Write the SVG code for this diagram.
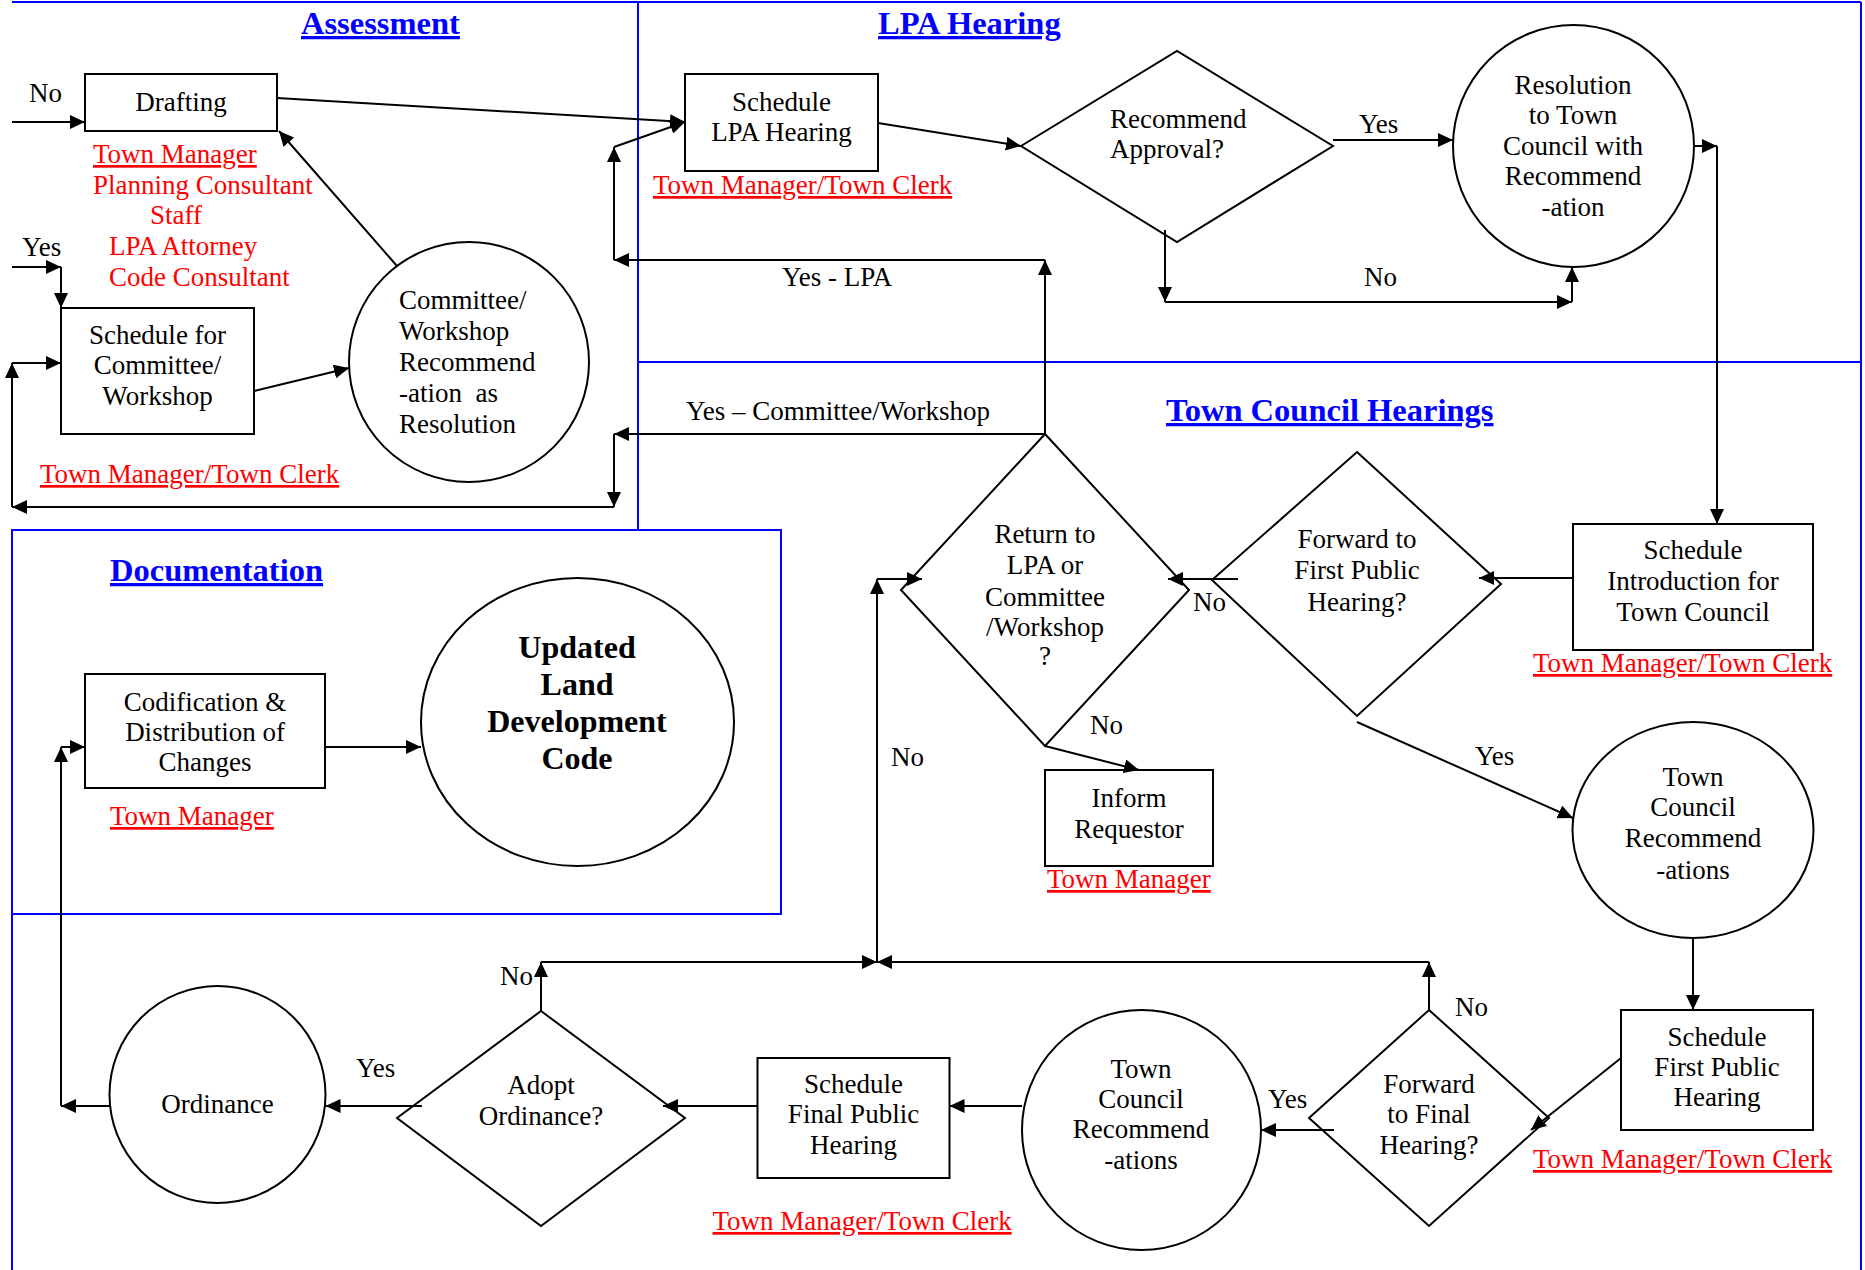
<svg xmlns="http://www.w3.org/2000/svg" width="1865" height="1270" viewBox="0 0 1865 1270">
<defs>
<marker id="ah" markerUnits="userSpaceOnUse" markerWidth="16" markerHeight="14" refX="15" refY="7" orient="auto">
<path d="M0,0 L15,7 L0,14 z" fill="#000"/>
</marker>
<style>
text{font-family:"Liberation Serif","Times New Roman",serif;font-size:27px;fill:#000}
.c{text-anchor:middle}
.title{font-size:32.5px;font-weight:bold;fill:#0000ff;text-decoration:underline}
.red{fill:#ff0000}
.u{text-decoration:underline}
.big{font-size:32px;font-weight:bold}
.shape{fill:none;stroke:#000;stroke-width:2}
.frame{fill:none;stroke:#0000ff;stroke-width:2}
.conn line{stroke:#000;stroke-width:2;fill:none;marker-end:url(#ah)}
</style>
</defs>
<rect width="1865" height="1270" fill="#fff"/>

<g id="frames">
<line class="frame" x1="12" y1="2" x2="1861" y2="2"/>
<line class="frame" x1="638" y1="2" x2="638" y2="530"/>
<line class="frame" x1="638" y1="362" x2="1861" y2="362"/>
<line class="frame" x1="1861" y1="2" x2="1861" y2="1270"/>
<rect class="frame" x="12" y="530" width="769" height="384"/>
<line class="frame" x1="12" y1="914" x2="12" y2="1270"/>
</g>

<g id="titles">
<text class="title" x="301" y="34">Assessment</text>
<text class="title" x="878" y="34">LPA Hearing</text>
<text class="title" x="1166" y="421">Town Council Hearings</text>
<text class="title" x="110" y="581">Documentation</text>
</g>

<g id="connectors" class="conn">
<line x1="12" y1="122" x2="85" y2="122"/>
<line x1="12" y1="267" x2="61" y2="267"/>
<line x1="61" y1="267" x2="61" y2="308"/>
<line x1="1045" y1="434" x2="614" y2="434"/>
<line x1="614" y1="434" x2="614" y2="507"/>
<line x1="614" y1="507" x2="12" y2="507"/>
<line x1="12" y1="507" x2="12" y2="363"/>
<line x1="12" y1="363" x2="61" y2="363"/>
<line x1="254" y1="391" x2="349" y2="368"/>
<line x1="397" y1="266" x2="279" y2="131"/>
<line x1="277" y1="98" x2="685" y2="122"/>
<line x1="1045" y1="434" x2="1045" y2="260"/>
<line x1="1045" y1="260" x2="614" y2="260"/>
<line x1="614" y1="260" x2="614" y2="147"/>
<line x1="614" y1="147" x2="685" y2="122"/>
<line x1="878" y1="123" x2="1021" y2="146"/>
<line x1="1333" y1="140" x2="1453" y2="140"/>
<line x1="1165" y1="230" x2="1165" y2="302"/>
<line x1="1165" y1="302" x2="1572" y2="302"/>
<line x1="1572" y1="302" x2="1572" y2="267"/>
<line x1="1694" y1="146" x2="1717" y2="146"/>
<line x1="1717" y1="146" x2="1717" y2="524"/>
<line x1="1573" y1="578" x2="1479" y2="578"/>
<line x1="1238" y1="579" x2="1168" y2="579"/>
<line x1="1357" y1="722" x2="1573" y2="818"/>
<line x1="1045" y1="746" x2="1139" y2="770"/>
<line x1="1693" y1="938" x2="1693" y2="1010"/>
<line x1="1621" y1="1058" x2="1531" y2="1130"/>
<line x1="1334" y1="1130" x2="1261" y2="1130"/>
<line x1="1429" y1="1010" x2="1429" y2="962"/>
<line x1="1429" y1="962" x2="877" y2="962"/>
<line x1="1022" y1="1106" x2="949.5" y2="1106"/>
<line x1="757.5" y1="1106" x2="663" y2="1106"/>
<line x1="541" y1="1011" x2="541" y2="962"/>
<line x1="541" y1="962" x2="877" y2="962"/>
<line x1="877" y1="962" x2="877" y2="579"/>
<line x1="877" y1="579" x2="922" y2="579"/>
<line x1="422" y1="1106" x2="325.5" y2="1106"/>
<line x1="110" y1="1106" x2="61" y2="1106"/>
<line x1="61" y1="1106" x2="61" y2="747"/>
<line x1="61" y1="747" x2="85" y2="747"/>
<line x1="325.5" y1="747" x2="421" y2="747"/>
</g>

<g id="connector-labels">
<text x="29" y="102">No</text>
<text x="22" y="256">Yes</text>
<text x="782" y="286">Yes - LPA</text>
<text x="686" y="420">Yes – Committee/Workshop</text>
<text x="1359" y="133">Yes</text>
<text x="1364" y="286">No</text>
<text x="1193" y="611">No</text>
<text x="1090" y="734">No</text>
<text x="1475" y="765">Yes</text>
<text x="891" y="766">No</text>
<text x="1455" y="1016">No</text>
<text x="1268" y="1108">Yes</text>
<text x="500" y="985">No</text>
<text x="356" y="1077">Yes</text>
</g>

<g id="drafting">
<rect class="shape" x="85" y="74" width="192" height="57"/>
<text class="c" x="181" y="111">Drafting</text>
</g>
<g id="drafting-roles">
<text class="red u" x="93" y="163">Town Manager</text>
<text class="red" x="93" y="194">Planning Consultant</text>
<text class="red" x="150" y="224">Staff</text>
<text class="red" x="109" y="255">LPA Attorney</text>
<text class="red" x="109" y="286">Code Consultant</text>
</g>

<g id="schedule-committee">
<rect class="shape" x="61" y="308" width="193" height="126"/>
<text class="c" x="157.5" y="344">Schedule for</text>
<text class="c" x="157.5" y="374">Committee/</text>
<text class="c" x="157.5" y="405">Workshop</text>
<text class="red u" x="40" y="483">Town Manager/Town Clerk</text>
</g>

<g id="committee-recommendation">
<ellipse class="shape" cx="469" cy="362" rx="120" ry="120"/>
<text x="399" y="309">Committee/</text>
<text x="399" y="340">Workshop</text>
<text x="399" y="371">Recommend</text>
<text x="399" y="402" xml:space="preserve">-ation  as</text>
<text x="399" y="433">Resolution</text>
</g>

<g id="schedule-lpa">
<rect class="shape" x="685" y="74" width="193" height="97"/>
<text class="c" x="781.5" y="111">Schedule</text>
<text class="c" x="781.5" y="141">LPA Hearing</text>
<text class="red u" x="653" y="194">Town Manager/Town Clerk</text>
</g>

<g id="recommend-approval">
<polygon class="shape" points="1021,146 1177,51 1333,146 1177,242"/>
<text x="1110" y="128">Recommend</text>
<text x="1110" y="158">Approval?</text>
</g>

<g id="resolution">
<ellipse class="shape" cx="1573.5" cy="146" rx="120.5" ry="121"/>
<text class="c" x="1573" y="94">Resolution</text>
<text class="c" x="1573" y="124">to Town</text>
<text class="c" x="1573" y="155">Council with</text>
<text class="c" x="1573" y="185">Recommend</text>
<text class="c" x="1573" y="216">-ation</text>
</g>

<g id="schedule-introduction">
<rect class="shape" x="1573" y="524" width="240" height="126"/>
<text class="c" x="1693" y="559">Schedule</text>
<text class="c" x="1693" y="590">Introduction for</text>
<text class="c" x="1693" y="621">Town Council</text>
<text class="red u" x="1533" y="672">Town Manager/Town Clerk</text>
</g>

<g id="forward-first">
<polygon class="shape" points="1357,452 1501,584 1357,716 1212,580"/>
<text class="c" x="1357" y="548">Forward to</text>
<text class="c" x="1357" y="579">First Public</text>
<text class="c" x="1357" y="611">Hearing?</text>
</g>

<g id="return-decision">
<polygon class="shape" points="1045,434 1189,590 1045,746 901,590"/>
<text class="c" x="1045" y="543">Return to</text>
<text class="c" x="1045" y="574">LPA or</text>
<text class="c" x="1045" y="606">Committee</text>
<text class="c" x="1045" y="636">/Workshop</text>
<text class="c" x="1045" y="665">?</text>
</g>

<g id="inform-requestor">
<rect class="shape" x="1045" y="770" width="168" height="96"/>
<text class="c" x="1129" y="807">Inform</text>
<text class="c" x="1129" y="838">Requestor</text>
<text class="red u" x="1047" y="888">Town Manager</text>
</g>

<g id="tc-recommendations-1">
<ellipse class="shape" cx="1693" cy="830" rx="120.5" ry="108"/>
<text class="c" x="1693" y="786">Town</text>
<text class="c" x="1693" y="816">Council</text>
<text class="c" x="1693" y="847">Recommend</text>
<text class="c" x="1693" y="879">-ations</text>
</g>

<g id="schedule-first">
<rect class="shape" x="1621" y="1010" width="192" height="120"/>
<text class="c" x="1717" y="1046">Schedule</text>
<text class="c" x="1717" y="1076">First Public</text>
<text class="c" x="1717" y="1106">Hearing</text>
<text class="red u" x="1533" y="1168">Town Manager/Town Clerk</text>
</g>

<g id="forward-final">
<polygon class="shape" points="1429,1010 1549,1118 1429,1226 1309,1118"/>
<text class="c" x="1429" y="1093">Forward</text>
<text class="c" x="1429" y="1123">to Final</text>
<text class="c" x="1429" y="1154">Hearing?</text>
</g>

<g id="tc-recommendations-2">
<ellipse class="shape" cx="1141.5" cy="1130" rx="119.5" ry="120"/>
<text class="c" x="1141" y="1078">Town</text>
<text class="c" x="1141" y="1108">Council</text>
<text class="c" x="1141" y="1138">Recommend</text>
<text class="c" x="1141" y="1169">-ations</text>
</g>

<g id="schedule-final">
<rect class="shape" x="757.5" y="1058" width="192" height="120"/>
<text class="c" x="853.5" y="1093">Schedule</text>
<text class="c" x="853.5" y="1123">Final Public</text>
<text class="c" x="853.5" y="1154">Hearing</text>
<text class="red u" x="712.5" y="1230">Town Manager/Town Clerk</text>
</g>

<g id="adopt-ordinance">
<polygon class="shape" points="541,1011 685,1118 541,1226 397,1118"/>
<text class="c" x="541" y="1094">Adopt</text>
<text class="c" x="541" y="1125">Ordinance?</text>
</g>

<g id="ordinance">
<ellipse class="shape" cx="217.5" cy="1094.5" rx="108" ry="108.5"/>
<text class="c" x="217.5" y="1113">Ordinance</text>
</g>

<g id="codification">
<rect class="shape" x="85" y="674" width="240" height="114"/>
<text class="c" x="205" y="711">Codification &amp;</text>
<text class="c" x="205" y="741">Distribution of</text>
<text class="c" x="205" y="771">Changes</text>
<text class="red u" x="110" y="825">Town Manager</text>
</g>

<g id="updated-ldc">
<ellipse class="shape" cx="577.5" cy="722" rx="156.5" ry="144"/>
<text class="c big" x="577" y="658">Updated</text>
<text class="c big" x="577" y="695">Land</text>
<text class="c big" x="577" y="732">Development</text>
<text class="c big" x="577" y="769">Code</text>
</g>
</svg>
